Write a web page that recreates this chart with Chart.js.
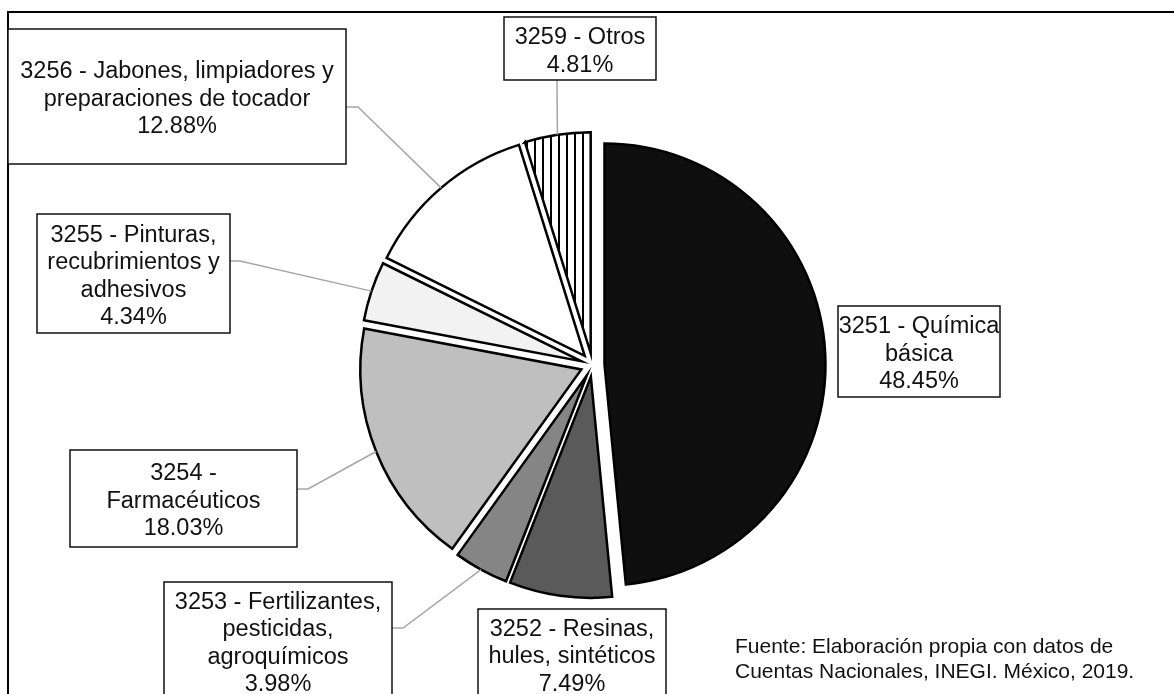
<!DOCTYPE html>
<html>
<head>
<meta charset="utf-8">
<script src="https://cdn.jsdelivr.net/npm/chart.js@4/dist/chart.umd.min.js"></script>
<style>
  html, body { margin: 0; padding: 0; background: #ffffff; }
  #wrap { width: 1174px; height: 694px; position: relative; }
</style>
</head>
<body>
<div id="wrap"><canvas id="pie"></canvas></div>
<script>
// Participación por subsector de la industria química (%)
const categories = [
  ['3251 - Química', 'básica'],
  ['3252 - Resinas,', 'hules, sintéticos'],
  ['3253 - Fertilizantes,', 'pesticidas,', 'agroquímicos'],
  ['3254 -', 'Farmacéuticos'],
  ['3255 - Pinturas,', 'recubrimientos y', 'adhesivos'],
  ['3256 - Jabones, limpiadores y', 'preparaciones de tocador'],
  ['3259 - Otros']
];
const shares = [48.45, 7.49, 3.98, 18.03, 4.34, 12.88, 4.81];
const sourceNote = [
  'Fuente: Elaboración propia con datos de',
  'Cuentas Nacionales, INEGI. México, 2019.'
];

// Styling
const FONT = "'Liberation Sans', Arial, Helvetica, sans-serif";
const EXPLODE = 12;

// Vertical-stripe fill for the "Otros" slice
function stripePattern() {
  const t = document.createElement('canvas');
  t.width = 8; t.height = 8;
  const g = t.getContext('2d');
  g.fillStyle = '#ffffff';
  g.fillRect(0, 0, 8, 8);
  g.fillStyle = '#000000';
  g.fillRect(6, 0, 2, 8);
  return g.createPattern(t, 'repeat');
}
const sliceFills = ['#0f0f0f', '#5a5a5a', '#858585', '#bfbfbf', '#f2f2f2', '#ffffff', stripePattern()];

// Label boxes [left, top, right, bottom] and leader-line start / elbow
const labelLayout = [
  { box: [838, 306, 1000, 397] },
  { box: [478, 609, 666, 712] },
  { box: [164, 582, 392, 712], from: [392, 628], elbow: [403, 628] },
  { box: [70, 450, 297, 547],  from: [297, 489], elbow: [308, 489] },
  { box: [37, 214, 230, 333],  from: [230, 261], elbow: [240, 261] },
  { box: [8, 29, 346, 164],    from: [346, 107], elbow: [358, 107] },
  { box: [504, 17, 656, 80],   from: [557, 80] }
];

// Pulls every slice outward along its bisector
const explodePlugin = {
  id: 'explodeSlices',
  beforeDatasetsDraw(chart) {
    const a = chart.chartArea;
    const cx = (a.left + a.right) / 2, cy = (a.top + a.bottom) / 2;
    chart.getDatasetMeta(0).data.forEach(arc => {
      const mid = (arc.startAngle + arc.endAngle) / 2;
      arc.x = cx + Math.cos(mid) * EXPLODE;
      arc.y = cy + Math.sin(mid) * EXPLODE;
    });
  }
};

// Outer frame
const framePlugin = {
  id: 'frame',
  beforeDraw(chart) {
    const ctx = chart.ctx;
    ctx.save();
    ctx.strokeStyle = '#000000';
    ctx.lineWidth = 2;
    ctx.strokeRect(8, 12, 1200, 720);
    ctx.restore();
  }
};

// Leader lines, boxed data labels and source note
const labelPlugin = {
  id: 'boxedLabels',
  afterDatasetsDraw(chart) {
    const ctx = chart.ctx;
    const arcs = chart.getDatasetMeta(0).data;
    const values = chart.data.datasets[0].data;
    ctx.save();
    // leader lines
    ctx.strokeStyle = '#a6a6a6';
    ctx.lineWidth = 1.5;
    labelLayout.forEach((l, i) => {
      if (!l.from) return;
      const arc = arcs[i];
      const mid = (arc.startAngle + arc.endAngle) / 2;
      const ex = arc.x + Math.cos(mid) * arc.outerRadius;
      const ey = arc.y + Math.sin(mid) * arc.outerRadius;
      ctx.beginPath();
      ctx.moveTo(l.from[0], l.from[1]);
      if (l.elbow) ctx.lineTo(l.elbow[0], l.elbow[1]);
      ctx.lineTo(ex, ey);
      ctx.stroke();
    });
    // boxes and text
    ctx.font = '23.5px ' + FONT;
    ctx.textAlign = 'center';
    ctx.textBaseline = 'middle';
    const lh = 27.5;
    labelLayout.forEach((l, i) => {
      const [x0, y0, x1, y1] = l.box;
      ctx.fillStyle = '#ffffff';
      ctx.fillRect(x0, y0, x1 - x0, y1 - y0);
      ctx.strokeStyle = '#111111';
      ctx.lineWidth = 1.5;
      ctx.strokeRect(x0, y0, x1 - x0, y1 - y0);
      const lines = chart.data.labels[i].concat([values[i].toFixed(2) + '%']);
      const cxm = (x0 + x1) / 2;
      const visBottom = Math.min(y1, 699);
      const cym = (y0 + visBottom) / 2 + 3;
      ctx.fillStyle = '#111111';
      lines.forEach((t, k) => {
        ctx.fillText(t, cxm, cym + (k - (lines.length - 1) / 2) * lh);
      });
    });
    // source note
    ctx.font = '21px ' + FONT;
    ctx.textAlign = 'left';
    ctx.fillStyle = '#111111';
    sourceNote.forEach((t, k) => ctx.fillText(t, 735, 647 + k * 25));
    ctx.restore();
  }
};

new Chart(document.getElementById('pie'), {
  type: 'pie',
  data: {
    labels: categories,
    datasets: [{
      data: shares,
      backgroundColor: sliceFills,
      borderColor: '#000000',
      borderWidth: 2.5,
      hoverBorderWidth: 2.5,
      borderAlign: 'center',
      borderJoinStyle: 'miter',
      offset: 0,
      hoverOffset: 0
    }]
  },
  options: {
    responsive: true,
    maintainAspectRatio: false,
    animation: false,
    events: [],
    layout: { padding: { left: 370.25, right: 359.25, top: 142.75, bottom: 106.75 } },
    plugins: {
      legend: { display: false },
      tooltip: { enabled: false },
      title: { display: false }
    }
  },
  plugins: [framePlugin, explodePlugin, labelPlugin]
});
</script>
</body>
</html>
